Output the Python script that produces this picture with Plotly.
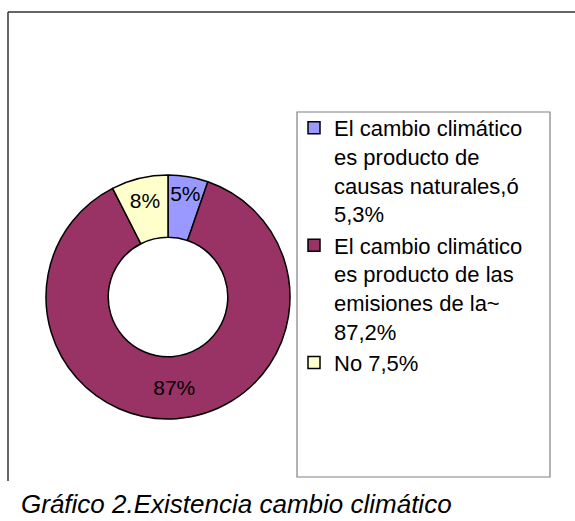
import plotly.graph_objects as go

W, H = 575, 521

labels = [
    "El cambio climático<br>es producto de<br>causas naturales,ó<br>5,3%",
    "El cambio climático<br>es producto de las<br>emisiones de la~<br>87,2%",
    "No 7,5%",
]
values = [5.3, 87.2, 7.5]
colors = ["#9999FF", "#993366", "#FFFFCC"]
slice_text = [f"{int(v + 0.5)}%" for v in values]
caption = "Gráfico 2.Existencia cambio climático"

def py(px):
    return 1 - px / H

def pxx(px):
    return px / W

fig = go.Figure(go.Pie(
    labels=labels,
    values=values,
    text=slice_text,
    textinfo="text",
    textposition="inside",
    insidetextorientation="horizontal",
    textfont=dict(family="Liberation Sans, Arial", size=21, color="#000000"),
    marker=dict(colors=colors, line=dict(color="#000000", width=1.5)),
    hole=0.49,
    sort=False,
    direction="clockwise",
    rotation=0,
    domain=dict(x=[pxx(46), pxx(290)], y=[py(419), py(175)]),
    hoverinfo="label+percent",
))

fig.update_layout(
    width=W, height=H,
    margin=dict(l=0, r=0, t=0, b=0),
    paper_bgcolor="#FFFFFF",
    plot_bgcolor="#FFFFFF",
    font=dict(family="Liberation Sans, Arial", color="#000000"),
    uniformtext=dict(minsize=21, mode="show"),
    showlegend=True,
    legend=dict(
        x=pxx(294), y=py(107), xanchor="left", yanchor="top",
        bgcolor="rgba(0,0,0,0)", borderwidth=0,
        font=dict(family="Liberation Sans, Arial", size=22, color="#000000"),
        valign="top",
        traceorder="normal",
    ),
    shapes=[
        dict(type="line", xref="paper", yref="paper",
             x0=pxx(8), x1=pxx(8), y0=py(12), y1=py(481),
             line=dict(color="#333333", width=1.5)),
        dict(type="line", xref="paper", yref="paper",
             x0=pxx(8), x1=1, y0=py(12), y1=py(12),
             line=dict(color="#333333", width=1.5)),
        dict(type="rect", xref="paper", yref="paper",
             x0=pxx(297), x1=pxx(550), y0=py(477), y1=py(112),
             line=dict(color="#808080", width=1.2), layer="below"),
    ],
    annotations=[
        dict(text=f"<i>{caption}</i>", xref="paper", yref="paper",
             x=pxx(19), y=py(521), xanchor="left", yanchor="bottom",
             showarrow=False,
             font=dict(family="Liberation Sans, Arial", size=26, color="#000000")),
    ],
)

fig.write_html("out.html", config={"displayModeBar": False},
               post_script="document.body.style.margin='0';")
